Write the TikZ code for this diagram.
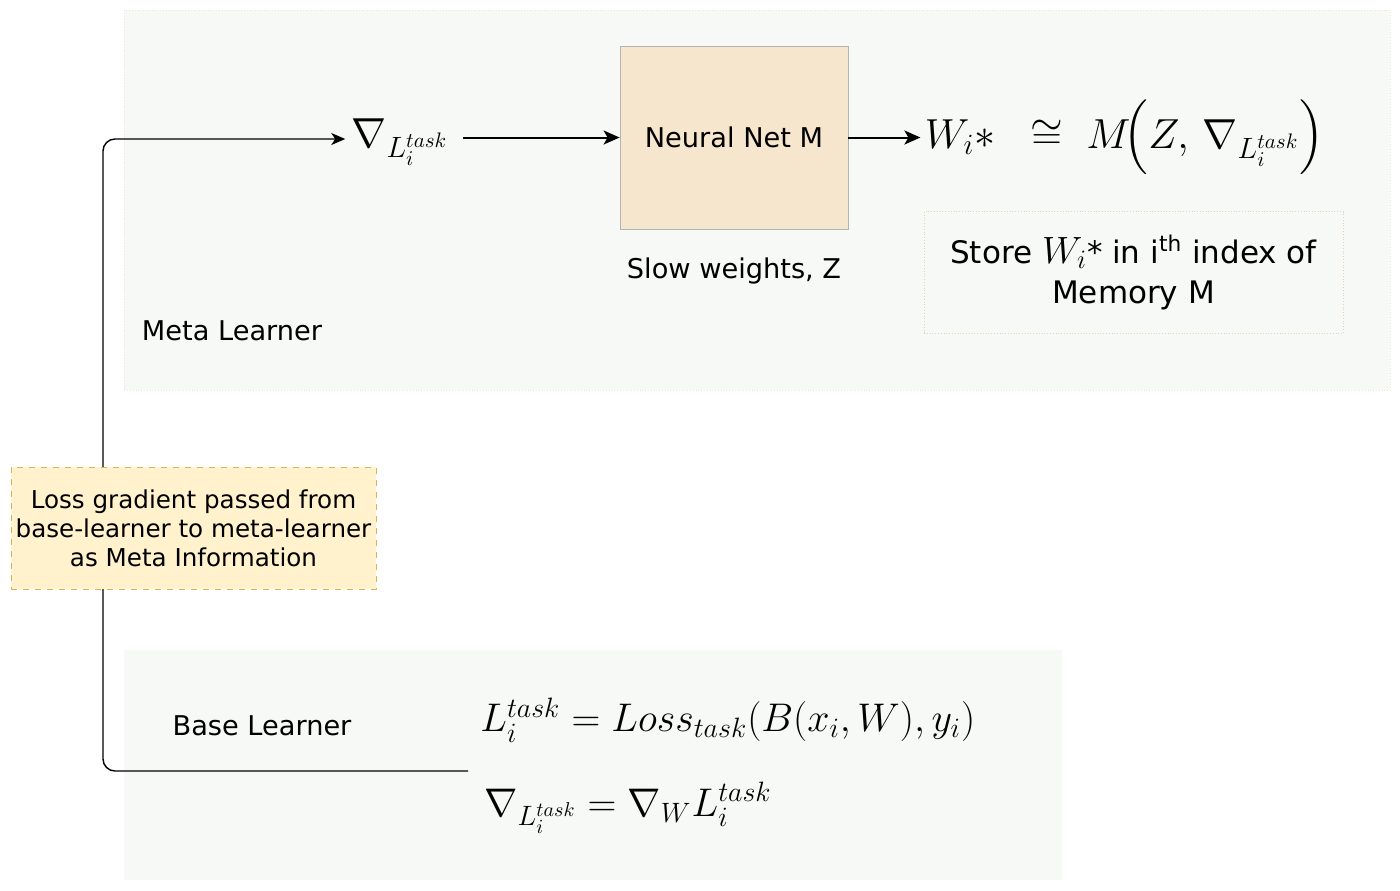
\RequirePackage{fix-cm}
\documentclass[tikz,border=0pt]{standalone}
\usepackage{amsmath}
\usepackage[no-math]{fontspec}
\setmainfont{DejaVu Sans}
\usetikzlibrary{positioning, arrows.meta}
\usepackage{xcolor}
\definecolor{learnercol}{HTML}{F7F9F7}
\definecolor{learnerline}{HTML}{E8E8DC}
\definecolor{netcol}{HTML}{F7E6CE}
\definecolor{netline}{HTML}{B4B4B4}
\definecolor{storeline}{HTML}{E2D4BA}
\definecolor{infocol}{HTML}{FFF2CC}
\definecolor{infoline}{HTML}{D6B656}

\begin{document}
\begin{tikzpicture}[x=0.5pt, y=-0.5pt,
  every node/.style={inner sep=0pt, align=center, font=\fontsize{13.6}{16}\selectfont},
  region/.style={fill=learnercol, anchor=north west},
  bigmath/.style={inner sep=2pt, font=\fontsize{21}{25}\selectfont},
  lowmath/.style={inner sep=2pt, font=\fontsize{20}{24}\selectfont, anchor=west},
  feed/.style={-{Stealth[length=8pt, width=7pt, inset=2pt]}, line width=1pt},
  backlink/.style={-{Stealth[length=7pt, width=6pt, inset=2pt]}, line width=0.7pt, rounded corners=6pt}]
\useasboundingbox (0,0) rectangle (1400,890);

% Regions
\node[region, draw=learnerline, densely dotted, minimum width=633pt, minimum height=190pt] (meta) at (124,10) {};
\node[region, minimum width=469pt, minimum height=115pt] (base) at (124,650) {};

% Meta learner
\node[draw=netline, fill=netcol, minimum width=114pt, minimum height=91.5pt] (net) at (734,137.5) {Neural Net M};
\node[below=14pt of net] (slow) {Slow weights, Z};
\node[bigmath] (grad) at (400,142) {$\nabla_{L_i^{task}}$};
\node[bigmath, anchor=west, right=36pt of net] (store) {$W_i{*}\;\;\cong\;M\!\Bigl(Z,\,\nabla_{L_i^{task}}\Bigr)$};
\node[draw=storeline, densely dotted, fill=learnercol, minimum width=209.5pt, minimum height=61pt, font=\fontsize{15.5}{20}\selectfont] (memory) at (1133.5,272.5)
  {Store {\fontsize{19}{20}\selectfont$W_i$}* in i\textsuperscript{th} index of\\ Memory M};
\node (metalabel) at (232,331) {Meta Learner};

% Base learner
\node (baselabel) at (262,726) {Base Learner};
\node[lowmath] (loss) at (476,720) {$L_i^{task} = Loss_{task}(B(x_i,W),y_i)$};
\node[lowmath] (lossgrad) at (480,808) {$\nabla_{L_i^{task}} = \nabla_W L_i^{task}$};
\coordinate (basestart) at (468,771);
\coordinate (lowbend) at (103,771);
\coordinate (highbend) at (103,139);

% Connectors
\draw[feed] (grad.east |- net) ++(5pt,0) -- (net.west);
\draw[feed] (net.east) -- (store.west);
\draw[backlink] (basestart) -- (lowbend) -- (highbend) -- ([xshift=-1pt]grad.west |- highbend);

% Meta information
\node[draw=infoline, dashed, fill=infocol, minimum width=182.5pt, minimum height=61pt, font=\fontsize{12.3}{14.5}\selectfont] (info) at (193.5,528)
  {Loss gradient passed from\\ base-learner to meta-learner\\ as Meta Information};
\end{tikzpicture}
\end{document}
